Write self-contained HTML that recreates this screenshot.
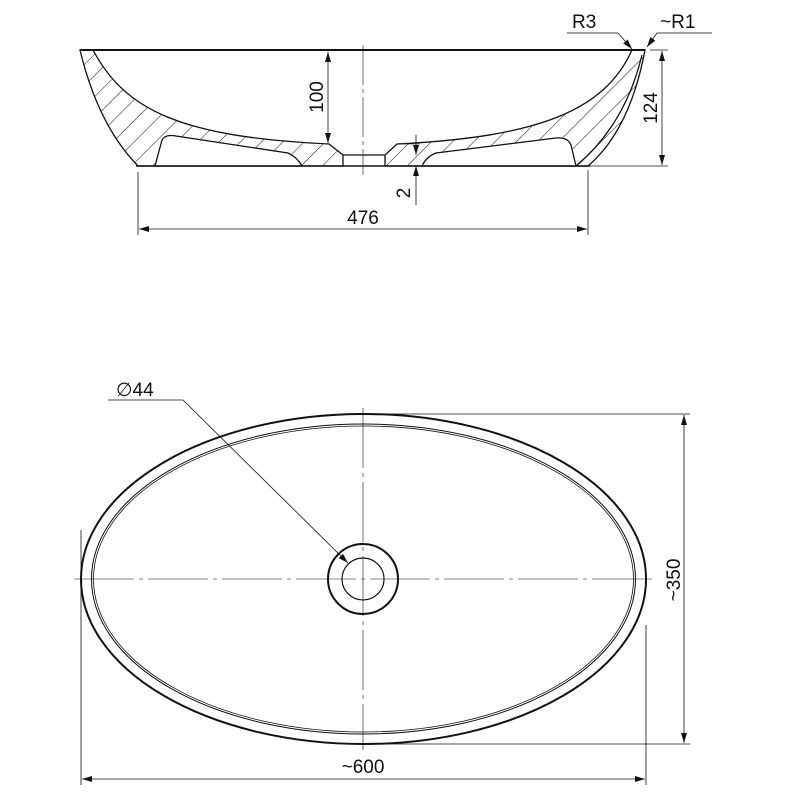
<!DOCTYPE html>
<html><head><style>body{margin:0;background:#fff}svg{display:block}text{font-family:"Liberation Sans",sans-serif;font-size:19px;fill:#111}</style></head>
<body>
<svg width="800" height="800" viewBox="0 0 800 800" xmlns="http://www.w3.org/2000/svg">
<defs>
<pattern id="h" width="15" height="15" patternUnits="userSpaceOnUse" patternTransform="rotate(45)">
<line x1="0" y1="0" x2="0" y2="15" stroke="#222" stroke-width="1.1"/>
</pattern>
<marker id="a" viewBox="0 0 10 6" refX="10" refY="3" markerWidth="13" markerHeight="6" markerUnits="userSpaceOnUse" orient="auto-start-reverse"><path d="M0,0L10,3L0,6Z" fill="#111"/></marker>
</defs>
<g stroke="#111" fill="none" stroke-width="1.3">
<path d="M80,50 Q98,125 138,166 L343,166 L343,155 L329,144 C180,137 125,110 93,50 Z" fill="url(#h)"/>
<path d="M645,50 Q630,130 588,166 L385,166 L385,155 L397,144 C540,137 605,110 632,50 Z" fill="url(#h)"/>
<path d="M155,166 L162,140 Q165,134 176,136 L288,153 Q297,157 302,166 Z" fill="#fff"/>
<path d="M576,166 L571,145 Q568,137 556,138 L436,153 Q426,157 422,166 Z" fill="#fff"/>
<path d="M576,166 Q625,125 642,55"/>
<line x1="343" y1="155" x2="385" y2="155"/>
<line x1="80" y1="50" x2="645" y2="50" stroke-width="2"/>
<line x1="136" y1="166" x2="590" y2="166" stroke-width="1.6"/>
<line x1="363" y1="45" x2="363" y2="175" stroke-width="0.6" stroke-dasharray="40,4,4,4"/>
<line x1="328" y1="52" x2="328" y2="143" stroke-width="0.8" marker-start="url(#a)" marker-end="url(#a)"/>
<line x1="416" y1="135" x2="416" y2="155" stroke-width="0.8" marker-end="url(#a)"/>
<line x1="416" y1="205" x2="416" y2="166" stroke-width="0.8" marker-end="url(#a)"/>
<line x1="400" y1="144" x2="420" y2="144" stroke-width="0.6"/>
<line x1="650" y1="50" x2="668" y2="50" stroke-width="0.8"/>
<line x1="590" y1="166" x2="668" y2="166" stroke-width="0.8"/>
<line x1="662" y1="51" x2="662" y2="165" stroke-width="0.8" marker-start="url(#a)" marker-end="url(#a)"/>
<line x1="138" y1="172" x2="138" y2="235" stroke-width="0.8"/>
<line x1="588" y1="170" x2="588" y2="235" stroke-width="0.8"/>
<line x1="139" y1="229" x2="587" y2="229" stroke-width="0.8" marker-start="url(#a)" marker-end="url(#a)"/>
<path d="M567,33 L618,33 L632,49" stroke-width="0.8" marker-end="url(#a)"/>
<path d="M712,33 L657,33 L647,47" stroke-width="0.8" marker-end="url(#a)"/>
<ellipse cx="363.5" cy="579" rx="282.5" ry="165" stroke-width="2"/>
<ellipse cx="363.5" cy="579" rx="272" ry="155" stroke-width="1"/>
<ellipse cx="363.5" cy="579" rx="270" ry="153" stroke-width="0.8"/>
<circle cx="363" cy="579" r="35" stroke-width="2"/>
<circle cx="363" cy="579" r="21" stroke-width="1.2"/>
<line x1="363" y1="408" x2="363" y2="750" stroke-width="0.6" stroke-dasharray="60,5,4,5"/>
<line x1="74" y1="579" x2="655" y2="579" stroke-width="0.6" stroke-dasharray="60,5,4,5"/>
<path d="M108,400 L183,400 L348,563" stroke-width="0.8" marker-end="url(#a)"/>
<line x1="370" y1="414" x2="690" y2="414" stroke-width="0.8"/>
<line x1="370" y1="744" x2="690" y2="744" stroke-width="0.8"/>
<line x1="684" y1="415" x2="684" y2="743" stroke-width="0.8" marker-start="url(#a)" marker-end="url(#a)"/>
<line x1="81" y1="530" x2="81" y2="785" stroke-width="0.8"/>
<line x1="646" y1="625" x2="646" y2="785" stroke-width="0.8"/>
<line x1="82" y1="779" x2="645" y2="779" stroke-width="0.8" marker-start="url(#a)" marker-end="url(#a)"/>
</g>
<text transform="translate(323,97) rotate(-90)" text-anchor="middle">100</text>
<text transform="translate(410,193) rotate(-90)" text-anchor="middle">2</text>
<text transform="translate(657,108) rotate(-90)" text-anchor="middle">124</text>
<text x="363" y="224" text-anchor="middle">476</text>
<text x="572" y="28">R3</text>
<text x="660" y="28">~R1</text>
<text x="116" y="396">∅44</text>
<text transform="translate(680,580) rotate(-90)" text-anchor="middle">~350</text>
<text x="363" y="773" text-anchor="middle">~600</text>
</svg>
</body></html>
